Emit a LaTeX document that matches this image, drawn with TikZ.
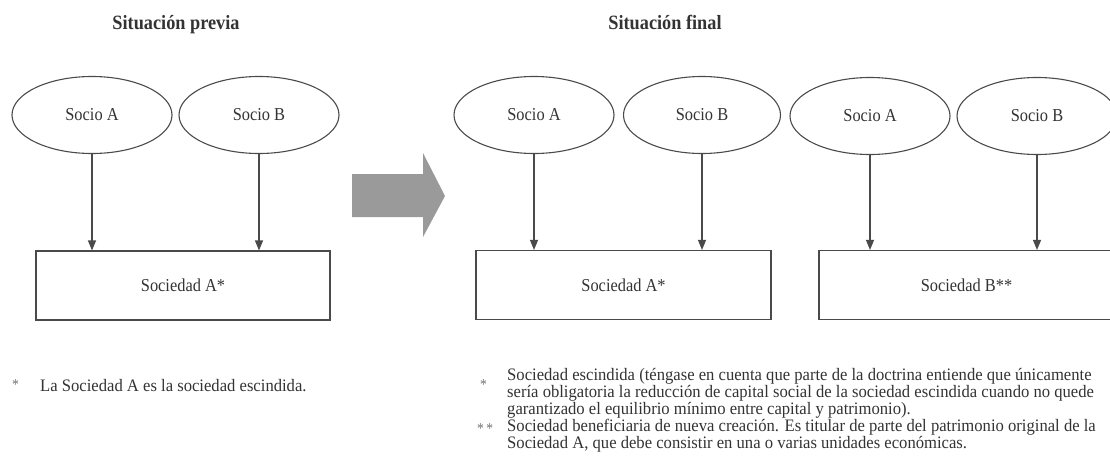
\documentclass[tikz,border=0pt]{standalone}
\usepackage{fontspec}
% a slightly narrowed serif with a taller look
\setmainfont{Liberation Serif}[FakeStretch=0.9]
\newfontfamily\notefont{Liberation Serif}[FakeStretch=0.95]
\usetikzlibrary{shapes.geometric,arrows.meta}
\definecolor{ink}{HTML}{333333}
\definecolor{linegray}{HTML}{4a4a4a}
\definecolor{bigarrow}{HTML}{9a9a9a}
\begin{document}
\begin{tikzpicture}[x=1pt,y=-1pt,
  socio/.style={ellipse, draw=linegray, line width=1.1pt, minimum width=160pt,
    minimum height=77pt, inner sep=0pt, text=ink, font=\fontsize{18.2}{20}\selectfont},
  sociedad/.style={rectangle, draw=linegray, line width=1.1pt, minimum width=294pt,
    minimum height=69pt, inner sep=0pt, text=ink, font=\fontsize{18.2}{20}\selectfont},
  link/.style={draw=linegray, line width=1.1pt, -{Triangle[length=10pt,width=8pt]}},
  heading/.style={text=ink, font=\fontsize{20.3}{24}\selectfont\bfseries, anchor=base},
  note/.style={text=ink, font=\notefont\fontsize{17.5}{14.5}\selectfont, align=left,
    anchor=base west, inner sep=0pt},
  notemark/.style={text=ink!70, font=\fontsize{15}{15}\selectfont, anchor=base west, inner sep=0pt}]
\useasboundingbox (0,0) rectangle (1110,474);
\clip (0,0) rectangle (1110,474);

% headings
\node[heading] (hprev) at (176,29) {Situación previa};
\node[heading] (hfinal) at (665,29) {Situación final};

% before the split
\node[socio] (pa) at (92,115) {Socio A};
\node[socio] (pb) at (259,115) {Socio B};
\node[sociedad] (psa) at (183,285.5) {Sociedad A*};
\draw[link] (pa.south) -- (pa.south |- psa.north);
\draw[link] (pb.south) -- (pb.south |- psa.north);

% transition arrow
\fill[bigarrow] (352,174) -- (423,174) -- (423,153) -- (445,196)
  -- (423,237) -- (423,217) -- (352,217) -- cycle;

% after the split
\node[socio] (fa1) at (534,115) {Socio A};
\node[socio, minimum width=157pt] (fb1) at (702,115) {Socio B};
\node[sociedad, minimum width=295pt] (fsa) at (623.5,285) {Sociedad A*};
\draw[link] (fa1.south) -- (fa1.south |- fsa.north);
\draw[link] (fb1.south) -- (fb1.south |- fsa.north);

\node[socio] (fa2) at (870,116) {Socio A};
\node[socio] (fb2) at (1037,116) {Socio B};
\node[sociedad, minimum width=295pt] (fsb) at (966.5,285) {Sociedad B**};
\draw[link] (fa2.south) -- (fa2.south |- fsb.north);
\draw[link] (fb2.south) -- (fb2.south |- fsb.north);

% notes (a multi-line node sits on the baseline of its last line)
\node[notemark] (m0) at (12,389) {*};
\node[note] (n0) at (40,391) {La Sociedad A es la sociedad escindida.};

\node[notemark] (m1) at (480,389) {*};
\node[notemark] (m2) at (477,433) {*\,*};
\node[note] (notes) at (507,448.5) {Sociedad escindida (téngase en cuenta que parte de la doctrina entiende que únicamente\\
sería obligatoria la reducción de capital social de la sociedad escindida cuando no quede\\
garantizado el equilibrio mínimo entre capital y patrimonio).\\
Sociedad beneficiaria de nueva creación. Es titular de parte del patrimonio original de la\\
Sociedad A, que debe consistir en una o varias unidades económicas.};
\end{tikzpicture}
\end{document}
